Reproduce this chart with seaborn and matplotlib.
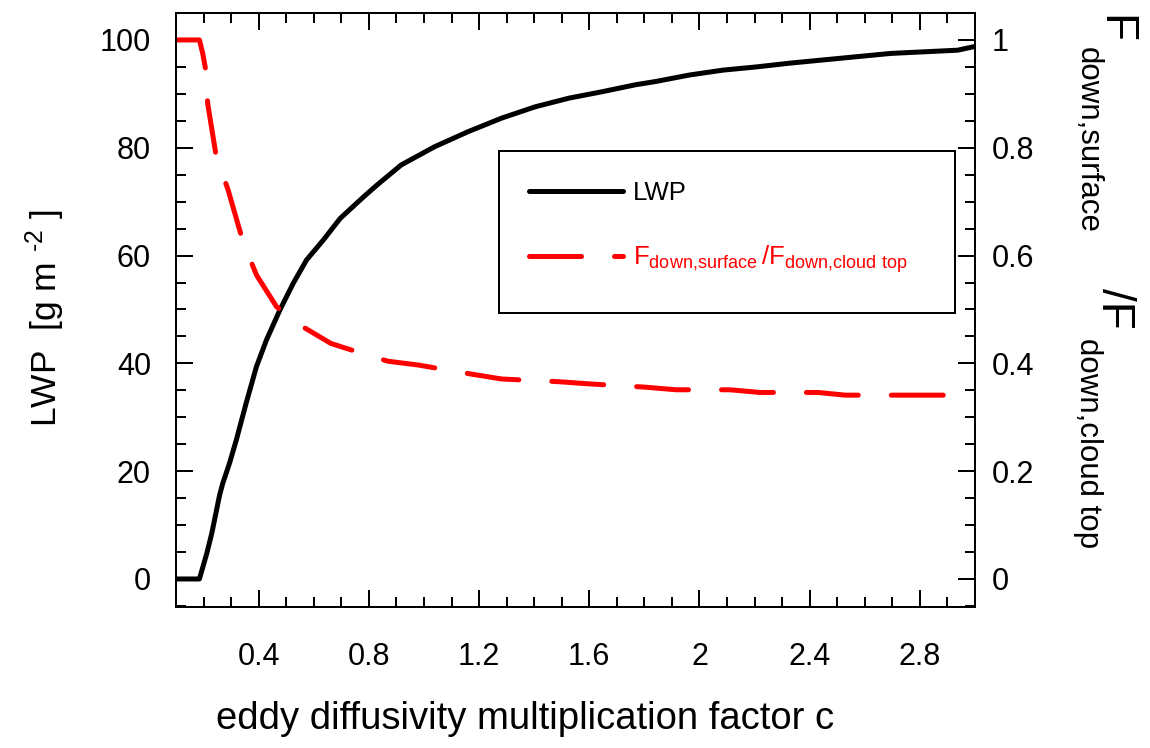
import matplotlib
matplotlib.use("Agg")
import matplotlib.pyplot as plt
import seaborn as sns
from matplotlib.patches import Rectangle
from matplotlib.ticker import FixedLocator, MultipleLocator

# Liquid water path versus eddy diffusivity multiplication factor
c_lwp = [0.10, 0.185, 0.212, 0.230, 0.258, 0.270, 0.282, 0.295, 0.319, 0.355,
         0.392, 0.428, 0.477, 0.526, 0.574, 0.635, 0.696, 0.781, 0.830, 0.917,
         1.039, 1.161, 1.282, 1.404, 1.526, 1.647, 1.769, 1.842, 1.964, 2.085,
         2.207, 2.329, 2.450, 2.572, 2.694, 2.815, 2.937, 3.00]
lwp = [0.0, 0.0, 4.8, 8.5, 15.5, 17.8, 19.6, 21.6, 25.8, 32.7,
       39.4, 44.3, 49.9, 54.9, 59.2, 62.9, 66.9, 70.9, 73.1, 76.8,
       80.2, 83.0, 85.5, 87.6, 89.2, 90.4, 91.7, 92.3, 93.5, 94.4,
       95.0, 95.7, 96.3, 96.9, 97.5, 97.8, 98.1, 98.8]

# Ratio of downwelling flux at the surface to that at cloud top
c_flux = [0.10, 0.185, 0.197, 0.209, 0.215, 0.246, 0.289, 0.343, 0.392, 0.465,
          0.550, 0.662, 0.766, 0.869, 0.978, 1.173, 1.282, 1.489, 1.598, 1.799,
          1.915, 2.110, 2.220, 2.430, 2.530, 2.730, 3.00]
flux_ratio = [1.000, 1.000, 0.975, 0.941, 0.882, 0.784, 0.722, 0.626, 0.564, 0.505,
              0.471, 0.437, 0.420, 0.404, 0.397, 0.380, 0.371, 0.366, 0.362, 0.356,
              0.351, 0.351, 0.346, 0.346, 0.341, 0.341, 0.341]

x_ticks = [0.4, 0.8, 1.2, 1.6, 2.0, 2.4, 2.8]
x_tick_labels = ["0.4", "0.8", "1.2", "1.6", "2", "2.4", "2.8"]
lwp_ticks = [0, 20, 40, 60, 80, 100]
lwp_tick_labels = ["0", "20", "40", "60", "80", "100"]
ratio_ticks = [0.0, 0.2, 0.4, 0.6, 0.8, 1.0]
ratio_tick_labels = ["0", "0.2", "0.4", "0.6", "0.8", "1"]

sns.set_theme(style="white")
plt.rcParams["font.family"] = ["Liberation Sans", "DejaVu Sans"]
plt.rcParams["mathtext.default"] = "regular"

W, H = 1150, 748
fig = plt.figure(figsize=(W / 100, H / 100), dpi=100)
ax = fig.add_axes([176 / W, 1 - 607 / H, (975 - 176) / W, (607 - 13) / H])
ax2 = ax.twinx()

LW = 3.6
sns.lineplot(x=c_lwp, y=lwp, ax=ax, color="black", linewidth=LW,
             solid_capstyle="round", solid_joinstyle="round", legend=False)
sns.lineplot(x=c_flux, y=flux_ratio, ax=ax2, color="#ff0000", linewidth=LW,
             linestyle=(0, (10.4, 6.6)), dash_capstyle="round",
             dash_joinstyle="round", legend=False)

ax.set_xlim(0.1, 3.0)
ax.set_ylim(-5.2, 105.0)
ax2.set_ylim(-0.052, 1.050)

ax.xaxis.set_major_locator(FixedLocator(x_ticks))
ax.set_xticklabels(x_tick_labels)
ax.xaxis.set_minor_locator(MultipleLocator(0.1))
ax.yaxis.set_major_locator(FixedLocator(lwp_ticks))
ax.set_yticklabels(lwp_tick_labels)
ax.yaxis.set_minor_locator(MultipleLocator(5))
ax2.yaxis.set_major_locator(FixedLocator(ratio_ticks))
ax2.set_yticklabels(ratio_tick_labels)
ax2.yaxis.set_minor_locator(MultipleLocator(0.05))

TW = 1.44
for a in (ax, ax2):
    for s in a.spines.values():
        s.set_color("black")
        s.set_linewidth(TW)
    a.set_xlabel("")
    a.set_ylabel("")
    a.grid(False)

ax.tick_params(axis="both", which="both", direction="in", width=TW,
               color="black", labelcolor="black", labelsize=22)
ax.tick_params(which="major", length=12.5)
ax.tick_params(which="minor", length=7)
ax.tick_params(axis="x", which="both", top=True, bottom=True, pad=25)
ax.tick_params(axis="y", which="both", left=True, right=False, pad=18)
ax2.tick_params(axis="y", which="both", direction="in", width=TW,
                color="black", labelcolor="black", labelsize=22,
                left=False, right=True, pad=12)
ax2.tick_params(axis="y", which="major", length=12.5)
ax2.tick_params(axis="y", which="minor", length=7)

# Axis titles
fig.text(525 / W, 1 - 719 / H, "eddy diffusivity multiplication factor c",
         ha="center", va="center", fontsize=27.5, color="black")
fig.text(45 / W, 1 - 318 / H, "LWP  [g m $^{\u20102}$ ]", rotation=90,
         ha="center", va="center", fontsize=25.5, color="black")

# Right-hand title built from pieces so the subscripts sit well below the baseline
right_title = [
    ("F", 1102, 15, 33),
    ("down,surface", 1080, 47, 22.5),
    ("/F", 1102, 288, 33),
    ("down,cloud top", 1080, 338, 22.5),
]
for txt, bx, ty, fs in right_title:
    fig.text(bx / W, 1 - ty / H, txt, rotation=270, rotation_mode="anchor",
             ha="left", va="baseline", fontsize=fs, color="black")

# Legend box drawn as a plain framed rectangle, entries on top of it
x0 = (499 - 176) / (975 - 176)
y1 = (607 - 151) / (607 - 13)
y0 = (607 - 313) / (607 - 13)
x1 = (955 - 176) / (975 - 176)
ax2.add_patch(Rectangle((x0, y0), x1 - x0, y1 - y0, transform=ax2.transAxes,
                        facecolor="white", edgecolor="black", linewidth=TW,
                        zorder=5))
handles = [ax.lines[0], ax2.lines[0]]
labels = ["LWP", r"$F_{down{,}surface}\,/F_{down{,}cloud\ top}$"]
leg = ax2.legend(handles, labels, loc="upper left", bbox_to_anchor=(x0, y1),
                 borderaxespad=0, fontsize=18.5, frameon=False,
                 handlelength=3.66, handletextpad=0.39, borderpad=1.17,
                 labelspacing=1.5)
leg.set_zorder(6)
for t, col in zip(leg.get_texts(), ["black", "#ff0000"]):
    t.set_color(col)

fig.savefig("out.png", dpi=100)
